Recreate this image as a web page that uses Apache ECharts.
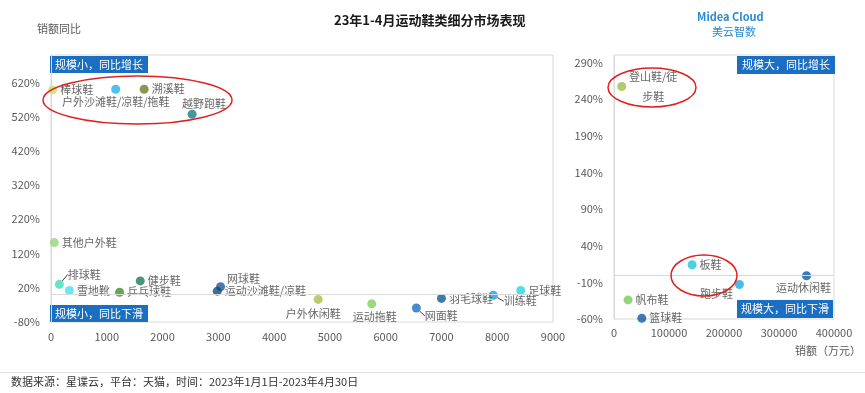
<!DOCTYPE html>
<html>
<head>
<meta charset="utf-8">
<script src="https://cdn.jsdelivr.net/npm/echarts@6/dist/echarts.min.js"></script>
<style>
html,body{margin:0;padding:0;background:#fff;}
#main{width:865px;height:393px;}
</style>
</head>
<body>
<div id="main"></div>
<script>
// ---------- data ----------
const leftNames = ['棒球鞋','户外沙滩鞋/凉鞋/拖鞋','溯溪鞋','越野跑鞋','其他户外鞋','排球鞋','雪地靴','健步鞋','乒乓球鞋','网球鞋','运动沙滩鞋/凉鞋','户外休闲鞋','运动拖鞋','网面鞋','羽毛球鞋','训练鞋','足球鞋'];
const leftSales = [30, 1160, 1670, 2530, 60, 150, 330, 1600, 1230, 3040, 2980, 4790, 5750, 6550, 7000, 7930, 8420];
const leftGrowth = [598, 600, 600, 527, 152, 30, 12, 40, 7, 23, 10, -14, -27, -39, -11, -2, 12];
const leftColors = ['#c9dc72','#1fb2f0','#6b7c2a','#137f85','#92d47f','#3fe0b2','#40e2f2','#1d7a5a','#3e8e2e','#1e5a92','#0f4a7c','#a9c142','#80cf60','#1a6ec0','#0e5a9a','#1b9de0','#2bd2e2'];

const rightNames = ['登山鞋/徒步鞋','板鞋','跑步鞋','运动休闲鞋','帆布鞋','篮球鞋'];
const rightSales = [14000, 142000, 228000, 350000, 25600, 50600];
const rightGrowth = [257, 14, -13, -1, -34, -59];
const rightColors = ['#9ac24a','#22c4dc','#20a8e0','#0e5aa0','#7cc85a','#0e5aa0'];

const leftYTicks = [-80, 20, 120, 220, 320, 420, 520, 620];
const rightYTicks = [-60, -10, 40, 90, 140, 190, 240, 290];

// ---------- label styles (by name) ----------
const FONT = '"Noto Sans CJK SC", "Noto Sans", sans-serif';
const labelCfg = {
  '户外沙滩鞋/凉鞋/拖鞋': {position: 'bottom', distance: 3},
  '越野跑鞋': {position: 'top', distance: 0},
  '网球鞋': {position: 'right', distance: 2},
  '户外休闲鞋': {position: 'bottom', distance: 4},
  '运动拖鞋': {position: 'bottom', distance: 3},
  '跑步鞋': {position: 'left', distance: 2},
  '运动休闲鞋': {position: 'bottom', distance: 2},
  '登山鞋/徒步鞋': {position: 'right', distance: 27, align: 'center', lineHeight: 20, formatter: '登山鞋/徒\n步鞋'}
};
const layoutCfg = {
  '越野跑鞋': {dx: 12, dy: 0},
  '网球鞋': {dx: 0, dy: -8},
  '户外休闲鞋': {dx: -5, dy: 0},
  '运动拖鞋': {dx: 3, dy: 0},
  '跑步鞋': {dx: 0, dy: 9},
  '运动休闲鞋': {dx: -3, dy: 0},
  '排球鞋': {dx: 1, dy: -10, line: true},
  '网面鞋': {dx: 1, dy: 8, line: true},
  '训练鞋': {dx: 3, dy: 6, line: true}
};

function buildData(names, xs, ys, colors) {
  return names.map((n, i) => {
    const item = {name: n, value: [xs[i], ys[i]], itemStyle: {color: colors[i]}};
    if (labelCfg[n]) item.label = Object.assign({}, labelCfg[n]);
    if (layoutCfg[n] && layoutCfg[n].line) item.labelLine = {show: true};
    return item;
  });
}

function scatterSeries(names, xs, ys, colors, idx) {
  return {
    type: 'scatter',
    xAxisIndex: idx, yAxisIndex: idx,
    symbolSize: 9,
    data: buildData(names, xs, ys, colors),
    label: {
      show: true, position: 'right', distance: 3,
      formatter: '{b}', color: '#404040', fontSize: 11, fontFamily: FONT
    },
    labelLine: {show: false, lineStyle: {color: '#404040', width: 1}, length2: 0},
    labelLayout: function (p) {
      const n = names[p.dataIndex];
      return layoutCfg[n] ? {dx: layoutCfg[n].dx, dy: layoutCfg[n].dy} : {};
    },
    markLine: {
      silent: true, symbol: 'none', label: {show: false},
      lineStyle: {color: '#d9d9d9', width: 1, type: 'solid'},
      data: [{yAxis: 0}]
    },
    emphasis: {disabled: true}
  };
}

const axisLabelStyle = {color: '#595959', fontSize: 11, fontFamily: FONT};

const chart = echarts.init(document.getElementById('main'), null, {renderer: 'canvas'});
const boxColor = '#1a6fc2';
function quadBox(x, y, w, h, text) {
  return {
    type: 'group', left: x, top: y, silent: true,
    children: [
      {type: 'rect', shape: {x: 0, y: 0, width: w, height: h}, style: {fill: boxColor}},
      {type: 'text', x: w / 2, y: h / 2, style: {text: text, fill: '#fff', font: '11px ' + FONT, align: 'center', verticalAlign: 'middle'}}
    ]
  };
}

const option = {
  animation: false,
  backgroundColor: '#fff',
  textStyle: {fontFamily: FONT},
  title: {
    text: '23年1-4月运动鞋类细分市场表现',
    left: 329, top: 9,
    textStyle: {fontSize: 13, fontWeight: 'bold', color: '#1a1a1a', fontFamily: FONT}
  },
  grid: [
    {left: 51, top: 55, width: 502, height: 267, show: true, borderColor: '#d9d9d9', borderWidth: 1},
    {left: 614, top: 55, width: 220, height: 264, show: true, borderColor: '#d9d9d9', borderWidth: 1}
  ],
  xAxis: [
    {type: 'value', gridIndex: 0, min: 0, max: 9000, interval: 1000,
     axisLine: {show: false}, axisTick: {show: false}, splitLine: {show: false},
     axisLabel: Object.assign({margin: 9, formatter: v => String(v)}, axisLabelStyle)},
    {type: 'value', gridIndex: 1, min: 0, max: 400000, interval: 100000,
     axisLine: {show: false}, axisTick: {show: false}, splitLine: {show: false},
     axisLabel: Object.assign({margin: 8, formatter: v => String(v)}, axisLabelStyle)}
  ],
  yAxis: [
    {type: 'value', gridIndex: 0, min: -80, max: 700,
     axisLine: {show: true, onZero: false, lineStyle: {color: '#d9d9d9'}}, axisTick: {show: false}, splitLine: {show: false},
     axisLabel: Object.assign({margin: 11, customValues: leftYTicks, formatter: v => v + '%'}, axisLabelStyle)},
    {type: 'value', gridIndex: 1, min: -60, max: 300,
     axisLine: {show: true, onZero: false, lineStyle: {color: '#d9d9d9'}}, axisTick: {show: false}, splitLine: {show: false},
     axisLabel: Object.assign({margin: 11, customValues: rightYTicks, formatter: v => v + '%'}, axisLabelStyle)}
  ],
  series: [
    scatterSeries(leftNames, leftSales, leftGrowth, leftColors, 0),
    scatterSeries(rightNames, rightSales, rightGrowth, rightColors, 1)
  ],
  graphic: [
    {type: 'text', left: 37, top: 23, style: {text: '销额同比', fill: '#595959', font: '11px ' + FONT}},
    {type: 'text', left: 795, top: 345, style: {text: '销额（万元）', fill: '#595959', font: '11px ' + FONT}},
    {type: 'text', left: 697, top: 11, style: {text: 'Midea Cloud', fill: '#2a8ad4', font: 'bold 11px ' + FONT}},
    {type: 'text', left: 712, top: 26, style: {text: '美云智数', fill: '#2a8ad4', font: '11px ' + FONT}},
    {type: 'line', shape: {x1: 0, y1: 372.5, x2: 865, y2: 372.5}, style: {stroke: '#e0e0e0', lineWidth: 1}},
    {type: 'text', left: 11, top: 376, style: {text: '数据来源：星谍云，平台：天猫，时间：2023年1月1日-2023年4月30日', fill: '#333', font: '11px ' + FONT}},
    quadBox(50, 56, 98, 17, '规模小，同比增长'),
    quadBox(50, 305, 98, 17, '规模小，同比下滑'),
    quadBox(737, 56, 98, 18, '规模大，同比增长'),
    quadBox(737, 300, 96, 18, '规模大，同比下滑'),
    {type: 'ellipse', shape: {cx: 137.5, cy: 100, rx: 94.5, ry: 24}, style: {fill: 'none', stroke: '#e02020', lineWidth: 1.5}, z: 100},
    {type: 'ellipse', shape: {cx: 652, cy: 87.5, rx: 44, ry: 19.5}, style: {fill: 'none', stroke: '#e02020', lineWidth: 1.5}, z: 100},
    {type: 'ellipse', shape: {cx: 704, cy: 275.5, rx: 33, ry: 20.5}, style: {fill: 'none', stroke: '#e02020', lineWidth: 1.5}, z: 100}
  ]
};
chart.setOption(option);
</script>
</body>
</html>
